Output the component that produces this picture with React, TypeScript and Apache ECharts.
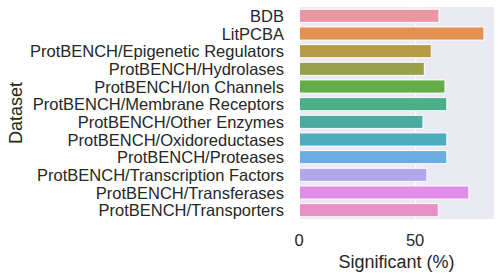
import React, { useEffect, useRef } from "react";
import * as echarts from "echarts";

const categories = [
  "BDB",
  "LitPCBA",
  "ProtBENCH/Epigenetic Regulators",
  "ProtBENCH/Hydrolases",
  "ProtBENCH/Ion Channels",
  "ProtBENCH/Membrane Receptors",
  "ProtBENCH/Other Enzymes",
  "ProtBENCH/Oxidoreductases",
  "ProtBENCH/Proteases",
  "ProtBENCH/Transcription Factors",
  "ProtBENCH/Transferases",
  "ProtBENCH/Transporters",
];
const values = [60.5, 79.9, 57.2, 54.2, 63.1, 63.9, 53.6, 63.9, 63.9, 55.3, 73.4, 60.2];
const colors = [
  "#EA96A3", "#E39153", "#B89B47", "#98A04A", "#62AD4A", "#4BAF8A",
  "#4AABA2", "#4FACBF", "#69ADE1", "#B4A6EA", "#E08EE8", "#E991C5",
];
const xTicks = [0, 50];

const FONT = "'Liberation Sans', Arial, sans-serif";
const TEXT = "#262626";

export default function App() {
  const ref = useRef<HTMLDivElement>(null);
  useEffect(() => {
    if (!ref.current) return;
    const chart = echarts.init(ref.current, undefined, { renderer: "svg" });
    chart.setOption({
      animation: false,
      grid: {
        left: 299,
        right: 7,
        top: 7,
        bottom: 60,
        show: true,
        backgroundColor: "#EAEAF2",
        borderWidth: 0,
      },
      xAxis: {
        type: "value",
        min: 0,
        max: 84,
        interval: 50,
        name: "Significant (%)",
        nameLocation: "middle",
        nameGap: 32,
        nameTextStyle: { fontSize: 18, color: TEXT, fontFamily: FONT },
        axisLine: { show: false },
        axisTick: { show: false },
        axisLabel: {
          fontSize: 16.5,
          color: TEXT,
          fontFamily: FONT,
          margin: 12,
          formatter: (v: number) => (xTicks.includes(v) ? String(v) : ""),
        },
        splitLine: { show: true, lineStyle: { color: "#FFFFFF", width: 1.2 } },
      },
      yAxis: {
        type: "category",
        data: categories,
        inverse: true,
        name: "Dataset",
        nameLocation: "middle",
        nameGap: 274,
        nameTextStyle: { fontSize: 18, color: TEXT, fontFamily: FONT },
        axisLine: { show: false },
        axisTick: { show: false },
        axisLabel: { interval: 0, fontSize: 16.5, color: TEXT, fontFamily: FONT, margin: 15 },
        splitLine: { show: false },
      },
      series: [
        {
          type: "bar",
          data: values.map((v, i) => ({ value: v, itemStyle: { color: colors[i] } })),
          barCategoryGap: "20%",
          itemStyle: { borderColor: "#FFFFFF", borderWidth: 1 },
        },
      ],
    });
    return () => chart.dispose();
  }, []);
  return (
    <div
      ref={ref}
      style={{ position: "fixed", left: 0, top: 0, width: 501, height: 279, background: "#FFFFFF" }}
    />
  );
}
